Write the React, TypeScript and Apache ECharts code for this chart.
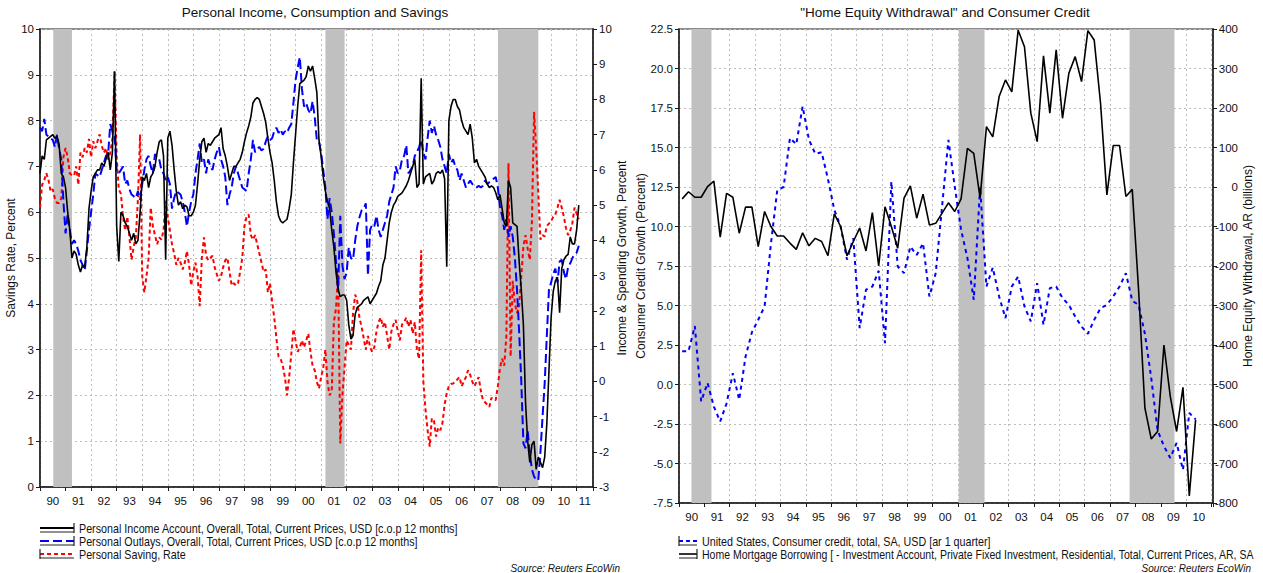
import React, { useEffect, useRef } from "react";
import * as echarts from "echarts";

const FONT = "'Liberation Sans', Arial, Helvetica, sans-serif";

// ---------- Left panel: monthly data from Jan 1990 ----------
const leftStartYear = 1990;
const incomeGrowth = [
  5.9, 6.4, 6.3, 6.85, 6.9, 6.95, 7.0, 6.9, 6.95, 6.7, 5.9, 5.8,
  5.5, 4.8, 4.3, 3.5, 3.7, 3.6, 3.3, 3.1, 3.3, 3.25, 3.8, 4.9,
  5.4, 5.8, 5.9, 6.0, 6.0, 6.2, 6.1, 6.3, 6.5, 6.0, 6.5, 8.8,
  4.4, 3.4, 4.8, 4.7, 4.5, 4.4, 4.2, 4.0, 4.2, 3.9, 4.0, 4.8,
  5.8, 5.7, 5.9, 5.5, 5.8, 5.9, 6.1, 6.5, 6.8, 6.85, 6.4, 3.45,
  6.9, 7.1, 6.7, 6.0, 5.4, 5.0, 5.1, 4.9, 5.0, 4.95, 4.7, 4.7,
  4.8, 5.0, 5.6, 6.3, 6.8, 6.9, 6.5, 6.75, 6.7, 6.8, 6.9, 6.95,
  7.0, 7.2, 6.6, 6.4, 6.1, 5.7, 5.9, 6.1, 6.1, 6.2, 6.3, 6.5,
  6.8, 7.05, 7.25, 7.5, 7.9, 8.0, 8.05, 8.0, 7.8, 7.6, 7.35, 6.9,
  6.5, 6.2, 5.7, 5.1, 4.7, 4.55, 4.5, 4.55, 4.6, 4.9, 5.3, 6.2,
  7.0, 7.8, 8.45, 8.5, 8.55, 8.65, 8.95, 8.8, 8.95, 8.6, 8.2, 6.85,
  6.4, 5.8, 5.4, 5.1, 4.9, 4.3, 3.8, 3.1, 2.6, 2.4, 2.45, 2.45,
  2.3, 1.6, 1.2, 1.3, 1.9, 2.1, 2.15, 2.2, 2.3, 2.35, 2.4, 2.2,
  2.3, 2.4, 2.5, 2.7, 2.85, 3.3, 3.5, 4.0, 4.5, 4.8, 5.0, 5.1,
  5.25, 5.3, 5.35, 5.45, 5.55, 5.7, 5.9, 6.1, 6.3, 5.5, 5.6, 8.6,
  5.6, 5.8, 5.85, 5.9, 5.6, 5.7, 5.9, 5.95, 5.9, 6.0, 5.75, 3.25,
  7.4, 7.8, 8.0, 8.0, 7.8, 7.7, 7.4, 7.2, 7.1, 7.0, 7.3, 6.9,
  6.2, 6.3, 6.1, 6.0, 5.9, 5.8, 5.6, 5.5, 5.55, 5.5, 5.35, 5.15,
  5.3, 4.9, 4.5, 4.4, 5.7, 5.5, 4.5, 4.45, 4.4, 3.4, 2.6, 1.6,
  -0.6, -1.7, -2.3, -1.8, -1.7, -2.5, -2.15, -2.3, -2.45, -2.15, -1.2, 0.3,
  1.8, 2.55, 2.85, 2.95, 1.95, 3.2, 3.45, 3.55, 3.6, 4.1, 3.9, 3.9,
  4.3, 5.0,
];
const outlaysGrowth = [
  7.2, 7.1, 7.45, 7.0, 6.95, 6.9, 6.85, 6.65, 7.0, 6.6, 6.3, 5.1,
  4.2, 4.75, 4.3, 3.9, 4.0, 3.9, 3.7, 3.45, 3.3, 3.15, 3.7, 4.3,
  4.8, 5.3, 5.9, 5.85, 5.8, 6.0, 6.2, 6.4, 6.45, 7.3, 7.1, 7.0,
  6.0, 5.9, 6.0, 6.1, 5.6, 5.7, 5.45, 5.3, 5.25, 5.2, 5.4, 5.15,
  5.6, 6.0, 6.3, 6.4, 6.1, 5.9, 6.45, 6.35, 6.3, 6.0, 5.9, 5.7,
  5.8, 5.6, 4.9, 5.2, 5.4, 5.35, 5.3, 5.1, 4.8, 4.4, 4.8, 5.1,
  5.3, 5.9, 6.3, 6.75, 6.2, 6.3, 5.9, 6.3, 6.1, 6.0, 6.3, 6.5,
  6.65, 6.3, 6.1, 5.8, 5.0, 5.3, 5.5, 5.9, 6.1, 5.9, 5.7, 5.5,
  5.45, 5.4, 5.9, 6.3, 6.85, 6.5, 6.6, 6.65, 6.55, 6.6, 6.8, 6.95,
  6.85, 6.9, 7.1, 7.2, 7.05, 7.15, 7.0, 7.1, 7.05, 7.2, 7.3, 7.9,
  8.55, 8.9, 9.2, 8.3, 7.8, 7.9, 7.7, 7.6, 7.95, 7.5, 6.85, 6.8,
  6.5, 6.0, 5.5, 4.6, 5.2, 4.8, 4.2, 3.4, 2.6, 4.7, 3.3, 2.9,
  3.1, 3.8, 3.5, 3.45, 4.0, 4.4, 4.65, 4.85, 4.9, 5.05, 3.0, 4.3,
  4.45, 4.4, 4.7, 4.3, 4.1, 4.3, 4.5, 4.7, 5.1, 5.3, 5.5, 6.1,
  5.9, 6.0, 6.3, 6.4, 6.7, 5.9, 6.0, 6.1, 6.4, 6.5, 6.65, 6.85,
  6.5, 6.3, 6.9, 7.4, 7.05, 7.25, 7.0, 6.85, 6.65, 6.3, 6.1, 5.9,
  6.45, 6.2, 6.3, 6.1, 6.0, 5.7, 5.9, 5.7, 5.5, 5.6, 5.7, 5.6,
  5.55, 5.5, 5.55, 5.5, 5.55, 5.7, 5.6, 5.65, 5.7, 5.75, 5.8, 5.5,
  4.95, 4.7, 4.3, 4.6, 4.1, 4.4, 4.1, 3.5, 2.6, 1.4, 0.0, -1.76,
  -1.9, -1.4, -2.05, -2.5, -2.7, -2.8, -2.8, -2.0, -1.0, -0.05, 1.3, 2.6,
  2.8, 3.05, 3.2, 2.8, 3.4, 3.45, 3.1, 2.9, 3.25, 3.35, 3.5, 3.6,
  3.65, 3.85,
];
const savingRate = [
  6.1, 6.6, 6.7, 6.85, 6.7, 6.45, 6.5, 6.3, 6.2, 6.2, 6.3, 7.2,
  7.4, 7.2, 6.85, 6.8, 6.8, 7.0, 6.6, 7.3, 7.2, 7.4, 7.3, 7.6,
  7.2, 7.55, 7.4, 7.55, 7.7, 7.45, 7.3, 7.4, 7.15, 7.3, 7.6, 9.07,
  7.2, 6.5, 6.4, 5.9, 5.6, 5.9, 5.45, 4.96, 5.25, 5.45, 6.3, 7.7,
  4.6, 4.25, 4.6, 5.0, 6.1, 5.7, 5.5, 5.3, 5.45, 5.4, 5.6, 6.25,
  5.9, 5.6, 5.3, 5.1, 4.85, 5.0, 4.9, 4.75, 4.9, 5.15, 4.85, 4.4,
  4.7, 4.9, 4.6, 3.95, 5.0, 5.45, 5.05, 4.95, 5.0, 5.05, 4.8, 4.65,
  4.5, 4.6, 4.8, 4.95, 5.0, 4.7, 4.4, 4.45, 4.4, 4.45, 4.7, 5.0,
  5.7, 5.9, 5.95, 5.5, 5.4, 5.5, 5.3, 5.1, 4.9, 4.7, 4.75, 4.25,
  4.45, 4.05, 3.7, 3.25, 2.85, 2.8, 2.65, 2.4, 2.0, 2.4, 2.9, 3.45,
  3.2, 2.95, 3.05, 3.2, 3.05, 3.2, 3.35, 2.95, 2.65, 2.55, 2.3, 2.15,
  2.4, 2.6, 3.0, 2.3, 2.0, 2.1, 3.6, 3.9, 4.67, 0.95, 2.0, 2.6,
  3.2, 3.1, 3.0, 3.8, 4.2, 4.05, 3.7, 3.5, 3.25, 3.0, 3.3, 3.05,
  2.95, 3.05, 3.4, 3.6, 3.7, 3.5, 3.6, 3.3, 3.0, 3.4, 3.55, 3.65,
  3.4, 3.2, 3.55, 3.6, 3.7, 3.5, 3.65, 3.35, 3.6, 3.0, 2.8, 5.17,
  2.3, 1.7, 1.25, 0.88, 1.5, 1.45, 1.1, 1.3, 1.24, 1.4, 1.8, 2.05,
  2.2, 2.25, 2.26, 2.3, 2.35, 2.4, 2.2, 2.3, 2.4, 2.55, 2.45, 2.3,
  2.2, 2.3, 2.4, 2.1, 1.9, 1.85, 1.8, 1.75, 1.95, 1.9, 1.9, 2.2,
  2.6, 2.8, 2.65, 3.3, 7.07, 2.85, 4.5, 4.0, 3.8, 3.95, 4.6, 5.25,
  5.5, 5.2, 4.96, 5.8, 8.19, 7.4, 6.4, 5.4, 5.5, 5.47, 5.7, 5.75,
  5.8, 5.9, 5.95, 6.1, 6.27, 6.1, 5.9, 5.65, 5.5, 5.6, 5.76, 6.1,
  5.97, 5.85,
];
const recessionsLeft = [
  [1990.52, 1991.25],
  [2001.17, 2001.92],
  [2007.92, 2009.5],
];

// ---------- Right panel: quarterly data from 1990 Q1 ----------
const rightStartYear = 1990;
const consumerCredit = [
  2.1, 2.1, 3.7, -1.07, 0.1, -1.4, -2.34, -1.2, 0.72, -0.97, 1.77, 3.3,
  4.1, 4.94, 8.9, 12.3, 12.5, 15.6, 15.2, 17.6, 15.5, 14.6, 14.7, 13.0,
  11.05, 10.0, 7.9, 9.26, 3.57, 6.0, 6.2, 7.2, 2.62, 12.84, 7.47, 7.05,
  8.73, 8.2, 8.94, 5.57, 7.05, 11.26, 15.48, 12.53, 9.79, 8.0, 5.36, 12.5,
  6.2, 7.4, 5.57, 4.2, 6.2, 6.83, 4.94, 3.99, 6.42, 3.78, 6.1, 6.2,
  5.47, 5.04, 4.3, 3.67, 3.21, 4.09, 4.83, 5.04, 5.57, 6.2, 7.05, 5.3,
  5.04, 3.2, 0.4, -2.9, -3.9, -4.65, -3.7, -5.4, -1.8, -2.2,
];
const mortgageBorrowing = [
  -30, -12, -26, -26, 1, 15, -127, -16, -26, -117, -51, -51,
  -151, -62, -100, -124, -124, -142, -158, -116, -149, -130, -138, -174,
  -68, -100, -174, -138, -104, -162, -65, -200, -50, -100, -155, -28,
  3, -79, -18, -96, -92, -66, -40, -62, -30, 98, 85, -28,
  153, 127, 229, 271, 241, 397, 355, 187, 115, 332, 187, 347,
  174, 288, 330, 267, 396, 372, 212, -20, 105, 105, -24, -6,
  -260, -560, -638, -619, -400, -530, -619, -507, -782, -589,
];
const recessionsRight = [
  [1990.49, 1991.28],
  [2001.03, 2002.05],
  [2007.77, 2009.54],
];

const LEFT_X_MAX = 2011.64;
const RIGHT_X_MAX = 2011.06;

const leftLabelPos: number[] = [];
for (let y = 1990; y <= 2010; y++) leftLabelPos.push(y + 0.5);
leftLabelPos.push((2011 + LEFT_X_MAX) / 2);
const rightLabelPos: number[] = [];
for (let y = 1990; y <= 2010; y++) rightLabelPos.push(y + 0.5);

const monthly = (arr: number[]) => arr.map((v, i) => [leftStartYear + i / 12, v]);
const quarterly = (arr: number[]) => arr.map((v, i) => [rightStartYear + 0.125 + i * 0.25, v]);

const AXIS = "#1a1a1a";
const TXT = "#111";
const gridLine = { show: true, lineStyle: { color: "#bdbdbd", type: [2, 3], width: 1 } };

function xAxis(gridIndex: number, max: number, labelPos: number[]) {
  return {
    type: "value",
    gridIndex,
    min: 1990,
    max,
    interval: 1,
    axisLine: { show: true, onZero: false, lineStyle: { color: AXIS, width: 1.5 } },
    axisTick: { show: true, length: 4, lineStyle: { color: AXIS, width: 1 } },
    axisLabel: {
      customValues: labelPos,
      formatter: (v: number) => String(Math.floor(v + 1e-6) % 100).padStart(2, "0"),
      fontSize: 11.5,
      color: TXT,
      fontFamily: FONT,
      margin: 8,
    },
    splitLine: gridLine,
  };
}

function yAxis(gridIndex: number, position: string, min: number, max: number, interval: number, name: string, nameGap: number, extra: any = {}) {
  return {
    type: "value",
    gridIndex,
    position,
    min,
    max,
    interval,
    axisLine: { show: true, onZero: false, lineStyle: { color: AXIS, width: 1.5 } },
    axisTick: { show: true, length: 4, lineStyle: { color: AXIS, width: 1 } },
    axisLabel: { fontSize: 11.5, color: TXT, fontFamily: FONT, margin: 6, ...(extra.axisLabel || {}) },
    splitLine: extra.splitLine ? gridLine : { show: false },
    name,
    nameLocation: "middle",
    nameGap,
    nameRotate: 90,
    nameTextStyle: { fontSize: 12, color: TXT, fontFamily: FONT },
  };
}

function recessionSeries(xAxisIndex: number, yAxisIndex: number, ranges: number[][], yVal: number) {
  return {
    type: "line",
    xAxisIndex,
    yAxisIndex,
    data: [[1990, yVal]],
    showSymbol: false,
    symbol: "none",
    silent: true,
    lineStyle: { opacity: 0 },
    z: 1,
    markArea: {
      silent: true,
      itemStyle: { color: "#c0c0c0" },
      data: ranges.map(([a, b]) => [{ xAxis: a }, { xAxis: b }]),
    },
  };
}

function lineSeries(name: string, xAxisIndex: number, yAxisIndex: number, data: number[][], color: string, width: number, dash: any, z: number) {
  return {
    name,
    type: "line",
    xAxisIndex,
    yAxisIndex,
    data,
    showSymbol: false,
    symbol: "none",
    z,
    lineStyle: { color, width, type: dash },
  };
}

function legendRow(x0: number, x1: number, y: number, color: string, dash: number[] | null, bracket: "left" | "right", text: string, width: number, sx = 0.895) {
  const bx = bracket === "left" ? x0 : x1;
  return [
    {
      type: "line",
      shape: { x1: x0, y1: y - 1, x2: x1, y2: y - 1 },
      style: { stroke: color, lineWidth: width, lineDash: dash || undefined },
    },
    {
      type: "line",
      shape: { x1: x0, y1: y + 3, x2: x1, y2: y + 3 },
      style: { stroke: "#222", lineWidth: 1 },
    },
    {
      type: "line",
      shape: { x1: bx, y1: y - 6, x2: bx, y2: y + 4 },
      style: { stroke: "#222", lineWidth: 1.2 },
    },
    {
      type: "text",
      x: x1 + 5,
      y: y,
      scaleX: sx,
      style: { text, fontSize: 12, fontFamily: FONT, fill: TXT, align: "left", verticalAlign: "middle" },
    },
  ];
}

export default function App() {
  const ref = useRef<HTMLDivElement>(null);

  useEffect(() => {
    if (!ref.current) return;
    const chart = echarts.init(ref.current, undefined, { renderer: "svg" });

    const option: any = {
      animation: false,
      backgroundColor: "#ffffff",
      grid: [
        { left: 40, top: 29, width: 553, height: 458, show: true, borderColor: "#8c8c8c", borderWidth: 2, backgroundColor: "transparent" },
        { left: 679, top: 29, width: 534, height: 474, show: true, borderColor: "#8c8c8c", borderWidth: 2, backgroundColor: "transparent" },
      ],
      xAxis: [xAxis(0, LEFT_X_MAX, leftLabelPos), xAxis(1, RIGHT_X_MAX, rightLabelPos)],
      yAxis: [
        yAxis(0, "left", 0, 10, 1, "Savings Rate, Percent", 19, { splitLine: true }),
        yAxis(0, "right", -3, 10, 1, "Income & Spending Growth, Percent", 22),
        yAxis(1, "left", -7.5, 22.5, 2.5, "Consumer Credit Growth (Percent)", 30, {
          splitLine: true,
          axisLabel: { formatter: (v: number) => v.toFixed(1) },
        }),
        yAxis(1, "right", -800, 400, 100, "Home Equity Withdrawal, AR (billions)", 29, {
          axisLabel: { align: "right", margin: 25 },
        }),
      ],
      series: [
        recessionSeries(0, 0, recessionsLeft, 5),
        lineSeries("Personal Saving, Rate", 0, 0, monthly(savingRate), "#ff0000", 2, [4, 3], 2),
        lineSeries("Personal Outlays", 0, 1, monthly(outlaysGrowth), "#0000ff", 2, [9, 4], 3),
        lineSeries("Personal Income", 0, 1, monthly(incomeGrowth), "#000000", 1.6, "solid", 4),
        recessionSeries(1, 2, recessionsRight, 5),
        lineSeries("Consumer credit", 1, 2, quarterly(consumerCredit), "#0000ff", 2, [4, 4], 3),
        lineSeries("Home Mortgage Borrowing", 1, 3, quarterly(mortgageBorrowing), "#000000", 1.6, "solid", 4),
      ],
      graphic: [
        {
          type: "text",
          x: 315,
          y: 12,
          style: { text: "Personal Income, Consumption and Savings", fontSize: 13.5, fontFamily: FONT, fill: TXT, align: "center", verticalAlign: "middle" },
        },
        {
          type: "text",
          x: 945,
          y: 12,
          style: { text: '"Home Equity Withdrawal" and Consumer Credit', fontSize: 13.5, fontFamily: FONT, fill: TXT, align: "center", verticalAlign: "middle" },
        },
        ...legendRow(40, 74, 529, "#000000", null, "right", "Personal Income Account, Overall, Total, Current Prices, USD [c.o.p 12 months]", 2),
        ...legendRow(40, 74, 542, "#0000ff", [9, 4], "right", "Personal Outlays, Overall, Total, Current Prices, USD [c.o.p 12 months]", 2),
        ...legendRow(40, 74, 555, "#ff0000", [4, 3], "left", "Personal Saving, Rate", 2),
        ...legendRow(679, 697, 542, "#0000ff", [4, 3], "left", "United States, Consumer credit, total, SA, USD [ar 1 quarter]", 2),
        ...legendRow(679, 697, 555, "#000000", null, "right", "Home Mortgage Borrowing [ - Investment Account, Private Fixed Investment, Residential, Total, Current Prices, AR, SA", 1.6, 0.875),
        {
          type: "text",
          x: 620,
          y: 568,
          style: { text: "Source: Reuters EcoWin", fontSize: 10, fontStyle: "italic", fontFamily: FONT, fill: TXT, align: "right", verticalAlign: "middle" },
        },
        {
          type: "text",
          x: 1251,
          y: 568,
          style: { text: "Source: Reuters EcoWin", fontSize: 10, fontStyle: "italic", fontFamily: FONT, fill: TXT, align: "right", verticalAlign: "middle" },
        },
      ],
    };

    chart.setOption(option);
    return () => chart.dispose();
  }, []);

  return <div ref={ref} style={{ position: "fixed", left: 0, top: 0, width: 1263, height: 573 }} />;
}
